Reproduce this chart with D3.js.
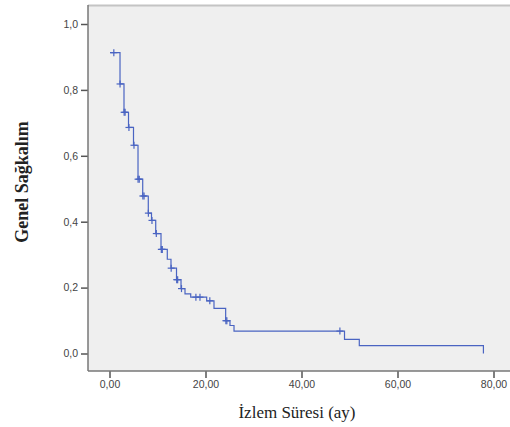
<!DOCTYPE html>
<html>
<head>
<meta charset="utf-8">
<script src="https://d3js.org/d3.v7.min.js"></script>
<style>
body { margin: 0; background: #fff; }
svg { display: block; }
</style>
</head>
<body>
<div id="chart"></div>
<script>
// Kaplan-Meier curve
var startTime = 0.1, startSurv = 0.913;
var eventTimes = [2.19, 3.02, 3.96, 5.0, 5.94, 6.92, 8.08, 8.75, 9.63, 10.73, 12.04, 12.81,
                  13.96, 14.9, 15.73, 16.92, 20.25, 21.77, 24.2, 25.1, 25.94, 48.96, 52.04, 77.9];
var survAfter  = [0.818, 0.732, 0.686, 0.632, 0.529, 0.478, 0.426, 0.404, 0.364, 0.316, 0.286, 0.259,
                  0.224, 0.197, 0.181, 0.171, 0.160, 0.137, 0.0995, 0.085, 0.068, 0.043, 0.024, 0.0];
var censorTimes = [0.9, 2.2, 3.05, 3.25, 4.05, 5.1, 5.95, 6.2, 6.95, 7.2, 8.1, 8.85, 9.75, 10.8, 11.0,
                   12.85, 14.0, 14.2, 15.0, 18.0, 18.85, 20.9, 24.25, 24.45, 48.0];
var xTicks = [0, 20, 40, 60, 80];
var yTicks = [0, 0.2, 0.4, 0.6, 0.8, 1.0];

var W = 510, H = 427;
var frame = {left: 88, top: 5, right: 512, bottom: 371};

var svg = d3.select("#chart").append("svg")
    .attr("width", W).attr("height", H);

var x = d3.scaleLinear().domain([0, 80]).range([109.5, 493.5]);
var y = d3.scaleLinear().domain([0, 1]).range([353.5, 24]);

// plot background
svg.append("rect")
  .attr("x", frame.left).attr("y", frame.top)
  .attr("width", frame.right - frame.left).attr("height", frame.bottom - frame.top)
  .attr("fill", "#efefef");
svg.append("line")
  .attr("x1", frame.left).attr("x2", frame.right)
  .attr("y1", frame.top + 0.5).attr("y2", frame.top + 0.5)
  .attr("stroke", "#c4c4c4").attr("stroke-width", 2);

// build step path
var pts = [[startTime, startSurv]];
var cur = startSurv;
eventTimes.forEach(function(t, i) {
  pts.push([t, cur]);
  cur = survAfter[i];
  pts.push([t, cur]);
});

function survAt(t) {
  var s = startSurv;
  for (var i = 0; i < eventTimes.length; i++) {
    if (eventTimes[i] <= t) s = survAfter[i];
  }
  return s;
}

var line = d3.line().x(function(d) { return x(d[0]); }).y(function(d) { return y(d[1]); });

svg.append("path")
  .datum(pts)
  .attr("d", line)
  .attr("fill", "none")
  .attr("stroke", "#4a64c2")
  .attr("stroke-width", 1.2);

// censor marks
var cm = svg.append("g").attr("stroke", "#4a64c2").attr("stroke-width", 1.2);
censorTimes.forEach(function(t) {
  var cx = x(t), cy = y(survAt(t));
  cm.append("line").attr("x1", cx).attr("x2", cx).attr("y1", cy - 3.5).attr("y2", cy + 3.5);
  cm.append("line").attr("x1", cx - 3.5).attr("x2", cx + 3.5).attr("y1", cy).attr("y2", cy);
});

// axes
var fmt = function(n) { return function(d) { return d.toFixed(n).replace(".", ","); }; };

var yAxis = svg.append("g")
  .attr("transform", "translate(" + frame.left + ",0)")
  .call(d3.axisLeft(y).tickValues(yTicks).tickSize(7).tickPadding(3).tickFormat(fmt(1)));
var xAxis = svg.append("g")
  .attr("transform", "translate(0," + frame.bottom + ")")
  .call(d3.axisBottom(x).tickValues(xTicks).tickSize(7).tickPadding(3).tickFormat(fmt(2)));

[xAxis, yAxis].forEach(function(a) {
  a.select(".domain").remove();
  a.selectAll(".tick line").attr("stroke", "#555").attr("stroke-width", 1.5);
  a.selectAll(".tick text")
    .attr("fill", "#444")
    .style("font-family", "Arial, 'Liberation Sans', sans-serif")
    .style("font-size", "10.5px");
});

// frame left and bottom lines
svg.append("line")
  .attr("x1", frame.left).attr("x2", frame.left)
  .attr("y1", frame.top).attr("y2", frame.bottom)
  .attr("stroke", "#777").attr("stroke-width", 1.5);
svg.append("line")
  .attr("x1", frame.left).attr("x2", frame.right)
  .attr("y1", frame.bottom).attr("y2", frame.bottom)
  .attr("stroke", "#777").attr("stroke-width", 1.5);

// titles
svg.append("text")
  .attr("x", 297).attr("y", 418)
  .attr("text-anchor", "middle")
  .style("font-family", "'Liberation Serif', 'Times New Roman', serif")
  .style("font-size", "17px")
  .attr("fill", "#222")
  .text("İzlem Süresi (ay)");

svg.append("text")
  .attr("transform", "translate(28,182) rotate(-90)")
  .attr("text-anchor", "middle")
  .style("font-family", "'Liberation Serif', 'Times New Roman', serif")
  .style("font-size", "18px")
  .style("font-weight", "bold")
  .attr("fill", "#222")
  .text("Genel Sağkalım");
</script>
</body>
</html>
